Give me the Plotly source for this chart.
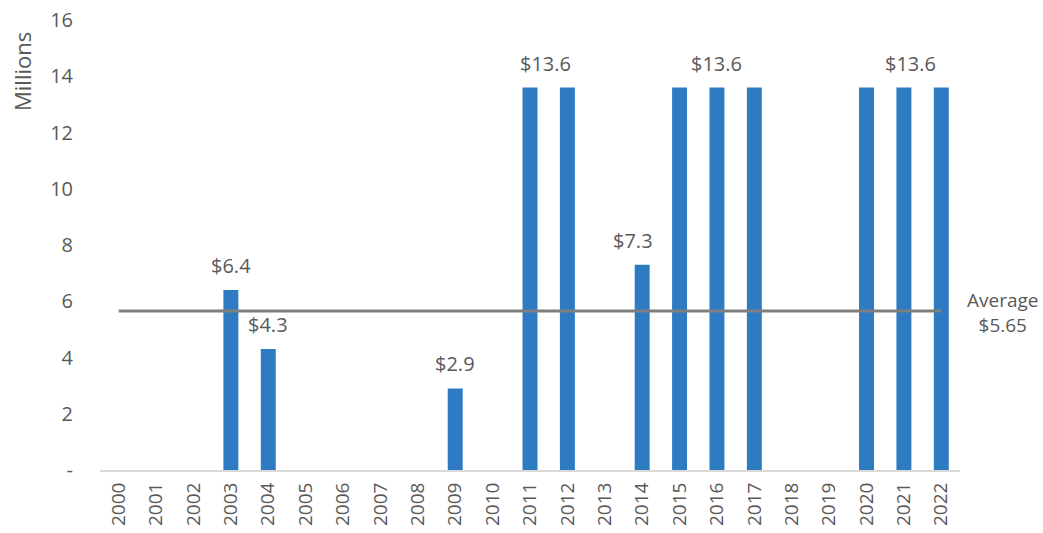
import plotly.graph_objects as go

# Yearly amounts, in millions of dollars
years = [str(y) for y in range(2000, 2023)]
amounts = [0, 0, 0, 6.4, 4.3, 0, 0, 0, 0, 2.9, 0, 13.6, 13.6, 0, 7.3,
           13.6, 13.6, 13.6, 0, 0, 13.6, 13.6, 13.6]
average = 5.65

# Years whose bars carry a value label, with a small horizontal nudge
labelled_years = ["2003", "2004", "2009", "2011", "2014", "2016", "2021"]
label_nudges = [0, 0, 0, 15, -9, 0, 7]

y_ticks = [0, 2, 4, 6, 8, 10, 12, 14, 16]
y_tick_text = ["-", "2", "4", "6", "8", "10", "12", "14", "16"]

FONT = "Open Sans"
TEXT_GREY = "#595959"

W, H = 1043, 533
M_L, M_R, M_T, M_B = 100, 83, 20, 63
PLOT_W, PLOT_H = W - M_L - M_R, H - M_T - M_B

fig = go.Figure()
fig.add_trace(go.Bar(
    x=years, y=amounts,
    marker=dict(color="#2f7bc2", line=dict(width=0)),
    hoverinfo="x+y",
))
fig.add_trace(go.Scatter(
    x=years, y=[average] * len(years),
    mode="lines",
    line=dict(color="#7f7f7f", width=3),
    hoverinfo="skip",
))

annotations = []
for yr, dx in zip(labelled_years, label_nudges):
    idx = years.index(yr)
    val = amounts[idx]
    annotations.append(dict(
        x=idx, y=val, xref="x", yref="y",
        text=f"${val:.1f}", showarrow=False,
        yanchor="bottom", yshift=9, xshift=dx,
        font=dict(family=FONT, size=20, color=TEXT_GREY),
    ))
annotations.append(dict(
    x=len(years) - 1, y=average, xref="x", yref="y",
    text=f"Average<br>${average:.2f}", showarrow=False,
    xanchor="center", yanchor="middle", xshift=61, yshift=-1,
    align="center",
    font=dict(family=FONT, size=19, color=TEXT_GREY),
))
# Axis title, set at the top of the value axis (left of the tick labels)
annotations.append(dict(
    x=(22 - M_L) / PLOT_W, y=(H - M_B - 72) / PLOT_H,
    xref="paper", yref="paper",
    xanchor="center", yanchor="middle",
    text="Millions", showarrow=False, textangle=-90,
    font=dict(family=FONT, size=22, color=TEXT_GREY),
))

fig.update_layout(
    width=W, height=H,
    margin=dict(l=M_L, r=M_R, t=M_T, b=M_B),
    paper_bgcolor="white", plot_bgcolor="white",
    showlegend=False,
    bargap=0.6,
    font=dict(family=FONT, size=19, color=TEXT_GREY),
    annotations=annotations,
    xaxis=dict(
        type="category",
        categoryorder="array", categoryarray=years,
        range=[-0.5, len(years) - 0.5],
        tickangle=-90,
        showline=True, linecolor="#d9d9d9", linewidth=2,
        showgrid=False, ticks="",
        ticklabelstandoff=3,
        automargin=False,
        tickfont=dict(family=FONT, size=19, color=TEXT_GREY),
    ),
    yaxis=dict(
        range=[0, 16],
        tickvals=y_ticks, ticktext=y_tick_text,
        showgrid=False, zeroline=False, showline=False, ticks="",
        ticklabelstandoff=26,
        automargin=False,
        tickfont=dict(family=FONT, size=20, color=TEXT_GREY),
    ),
)

fig.write_html("out.html")
